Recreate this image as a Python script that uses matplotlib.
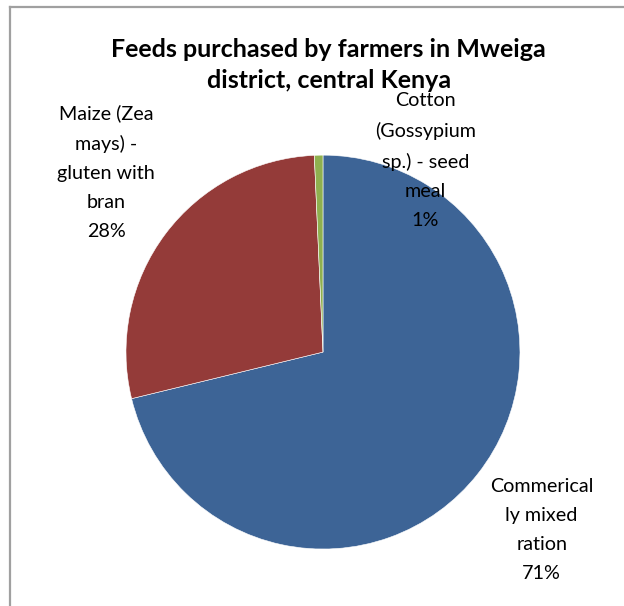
import matplotlib.pyplot as plt

# slice data, clockwise from 12 o'clock
feeds = ['Commerical\nly mixed\nration',
         'Maize (Zea\nmays) -\ngluten with\nbran',
         'Cotton\n(Gossypium\nsp.) - seed\nmeal']
shares = [71.2, 28.1, 0.7]
colours = ['#3D6496', '#943B39', '#8FB04F']

# label centres in pie-radius units
label_xy = [(1.11, -0.904), (-1.10, 0.914), (0.52, 0.975)]

plt.rcParams['font.family'] = ['Lato', 'DejaVu Sans']

fig = plt.figure(figsize=(6.24, 6.06), dpi=100, facecolor='white')
ax = fig.add_axes([0.2019, 0.094, 0.6314, 0.650])
ax.pie(shares, colors=colours, startangle=90, counterclock=False,
       radius=1.0, wedgeprops={'edgecolor': 'white', 'linewidth': 0.4})
ax.set_xlim(-1, 1)
ax.set_ylim(-1, 1)
ax.set_aspect('auto')
ax.set_axis_off()

total = sum(shares)
for name, val, (lx, ly) in zip(feeds, shares, label_xy):
  pct = f'{round(val / total * 100):.0f}%'
  ax.text(lx, ly, f'{name}\n{pct}', ha='center', va='center',
          fontsize=14.2, linespacing=1.86, color='black', clip_on=False)

fig.text(0.527, 0.892, 'Feeds purchased by farmers in Mweiga\ndistrict, central Kenya',
         ha='center', va='center', fontsize=18, fontweight='bold',
         linespacing=1.42)

# chart area border (top and left visible)
fig.add_artist(plt.Line2D([10/624, 1], [1 - 7/606, 1 - 7/606], color='#A0A0A0', lw=1.6))
fig.add_artist(plt.Line2D([10/624, 10/624], [0, 1 - 7/606], color='#A0A0A0', lw=1.6))

fig.savefig('out.png', dpi=100)
